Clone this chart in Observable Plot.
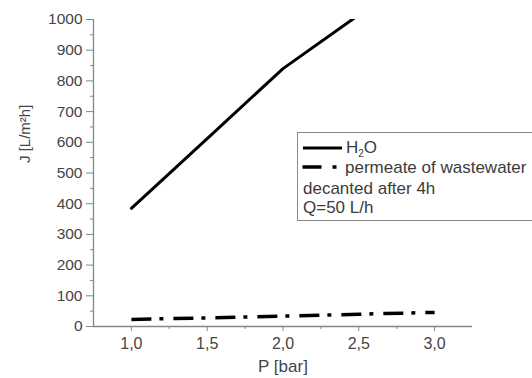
<!DOCTYPE html>
<html>
<head>
<meta charset="utf-8">
<script src="https://cdn.jsdelivr.net/npm/d3@7"></script>
<script src="https://cdn.jsdelivr.net/npm/@observablehq/plot@0.6"></script>
<style>
  html, body { margin: 0; padding: 0; background: #fff; overflow: hidden; }
  #wrap { position: relative; width: 532px; height: 378px; font-family: "Liberation Sans", Arial, sans-serif; }
  #legend { position: absolute; left: 297px; top: 132px; width: 250px; height: 89px; border: 1.5px solid #8a8a8a; border-right: none; background: #fff; color: #3c3c3c; font-size: 17px; box-sizing: border-box; }
  #legend .row { position: absolute; left: 0; white-space: nowrap; line-height: 20px; }
</style>
</head>
<body>
<div id="wrap"></div>
<script>
// Data
const pressureH2O = [1.0, 1.5, 2.0, 2.5];
const fluxH2O = [385, 612, 840, 1015];
const pressureWW = [1.0, 1.5, 2.0, 2.5, 3.0];
const fluxWW = [23, 28, 34, 40, 46];
const xTicks = [1.0, 1.5, 2.0, 2.5, 3.0];
const xMinor = [1.25, 1.75, 2.25, 2.75];
const yTicks = [0, 100, 200, 300, 400, 500, 600, 700, 800, 900, 1000];
const yMinor = [50, 150, 250, 350, 450, 550, 650, 750, 850, 950];
const xLabel = "P [bar]";
const yLabel = "J [L/m²h]";
const legendLabels = ["H", "permeate of wastewater", "decanted after 4h", "Q=50 L/h"];

const h2o = pressureH2O.map((p, i) => ({p, j: fluxH2O[i]}));
const ww = pressureWW.map((p, i) => ({p, j: fluxWW[i]}));

const axisColor = "#7d8a88";
const textColor = "#454545";

const chart = Plot.plot({
  width: 532,
  height: 378,
  marginLeft: 93,
  marginRight: 60,
  marginTop: 19,
  marginBottom: 52,
  style: {fontFamily: "'Liberation Sans', Arial, sans-serif", fontSize: "15.5px", color: textColor, background: "#fff"},
  x: {domain: [0.75, 3.25]},
  y: {domain: [0, 1000]},
  marks: [
    Plot.ruleX([0.75], {y1: 0, y2: 1000, stroke: axisColor, strokeWidth: 1.3}),
    Plot.ruleY([0], {stroke: axisColor, strokeWidth: 1.3}),
    Plot.axisY({ticks: yMinor, tickSize: 3, text: null, label: null, stroke: axisColor}),
    Plot.axisY({ticks: yTicks, tickSize: 7, tickPadding: 4, stroke: axisColor, fill: textColor,
      tickFormat: d => String(d), label: null}),
    Plot.axisX({ticks: xMinor, tickSize: 3, text: null, label: null, stroke: axisColor}),
    Plot.axisX({ticks: xTicks, tickSize: 5, tickPadding: 6, stroke: axisColor, fill: textColor,
      fontSize: 16, tickFormat: d => d.toFixed(1).replace(".", ","), label: null}),
    Plot.text([yLabel], {frameAnchor: "left", rotate: -90, dx: -68, dy: -10, fontSize: 15, fill: textColor}),
    Plot.text([xLabel], {frameAnchor: "bottom", dy: 45, fontSize: 17, fill: textColor}),
    Plot.line(h2o, {x: "p", y: "j", stroke: "#000", strokeWidth: 3, clip: true}),
    Plot.line(ww, {x: "p", y: "j", stroke: "#000", strokeWidth: 3.5, strokeDasharray: "20,8,4,10", strokeLinecap: "butt"})
  ]
});

const wrap = document.getElementById("wrap");
wrap.appendChild(chart);

const legend = document.createElement("div");
legend.id = "legend";
legend.innerHTML = `
  <svg width="50" height="40" style="position:absolute;left:0;top:0">
    <line x1="5" x2="44" y1="15" y2="15" stroke="#000" stroke-width="3"/>
    <line x1="4.5" x2="40" y1="34" y2="34" stroke="#000" stroke-width="3.5" stroke-dasharray="19,11,4,100"/>
  </svg>
  <div class="row" style="left:48px;top:5px">${legendLabels[0]}<sub style="font-size:10px">2</sub>O</div>
  <div class="row" style="left:47px;top:25px">${legendLabels[1]}</div>
  <div class="row" style="left:5px;top:46px">${legendLabels[2]}</div>
  <div class="row" style="left:5px;top:65px">${legendLabels[3]}</div>
`;
wrap.appendChild(legend);
</script>
</body>
</html>
